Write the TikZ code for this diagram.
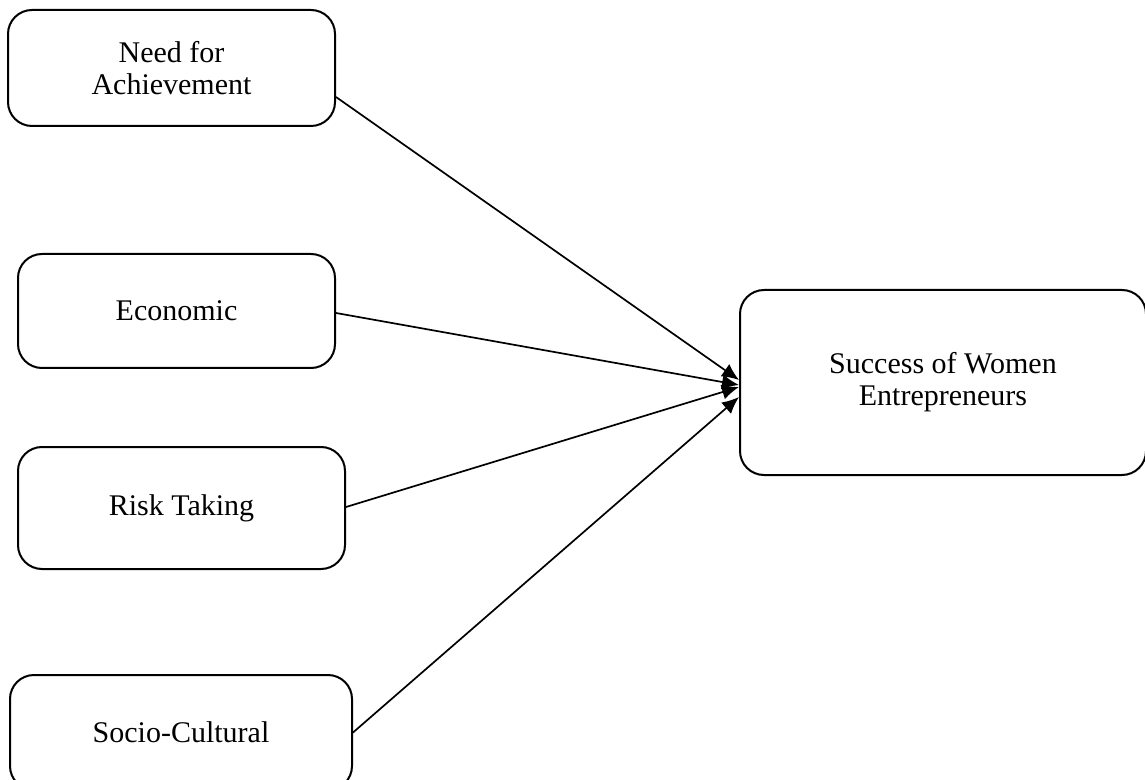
\documentclass[tikz,border=0pt]{standalone}
\usepackage{fontspec}
\setmainfont{Liberation Serif}
\usetikzlibrary{shapes,arrows.meta}
\tikzstyle{factor} = [draw, rectangle, rounded corners=12pt, line width=1pt, align=center, font=\fontsize{15}{16}\selectfont]
\tikzstyle{line} = [draw, line width=0.85pt, -{Latex[length=8.5pt,width=7.5pt]}]

\begin{document}
\begin{tikzpicture}[x=0.5pt, y=-0.5pt]
    \useasboundingbox (0,0) rectangle (1145,780);

    % Place nodes
    \node [factor, minimum width=163.5pt, minimum height=58pt] (achievement) at (171.5,68) {Need for\\Achievement};
    \node [factor, minimum width=158.5pt, minimum height=57pt] (economic) at (176.5,311) {Economic};
    \node [factor, minimum width=163.5pt, minimum height=61pt] (risk) at (181.5,508) {Risk Taking};
    \node [factor, minimum width=171pt, minimum height=57.5pt] (socio) at (181,732.5) {Socio-Cultural};
    \node [factor, minimum width=203pt, minimum height=92.5pt] (success) at (943,382.5) {Success of Women\\Entrepreneurs};
    % Draw edges
    \path [line] ([yshift=-14.5pt]achievement.east) -- ([yshift=1.25pt]success.west);
    \path [line] ([yshift=-1pt]economic.east) -- ([yshift=-1.25pt]success.west);
    \path [line] ([yshift=0.5pt]risk.east) -- ([yshift=-2.25pt]success.west);
    \path [line] (socio.east) -- ([yshift=-7.25pt]success.west);
\end{tikzpicture}
\end{document}
